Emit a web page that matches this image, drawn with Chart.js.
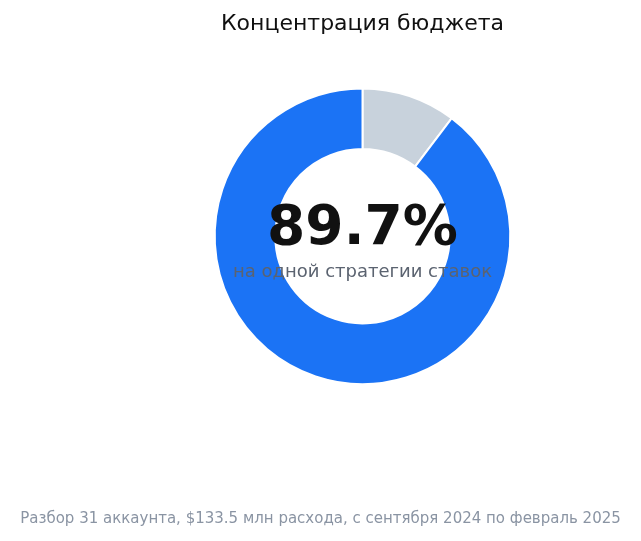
<!DOCTYPE html>
<html>
<head>
<meta charset="utf-8">
<script src="https://cdn.jsdelivr.net/npm/chart.js"></script>
<style>
  html, body { margin: 0; padding: 0; background: #fff; }
</style>
</head>
<body>
<canvas id="budgetChart" width="641" height="541"></canvas>
<script>
  const labels = ['Прочие стратегии', 'Одна стратегия ставок'];
  const shares = [10.3, 89.7];
  const sliceColors = ['#c8d2dc', '#1b73f5'];
  const centerValue = '89.7%';
  const centerCaption = 'на одной стратегии ставок';
  const footNote = 'Разбор 31 аккаунта, $133.5 млн расхода, с сентября 2024 по февраль 2025';

  // text in the hole of the doughnut + the note at the bottom
  const extraText = {
    id: 'extraText',
    afterDraw(chart) {
      const { ctx, chartArea, width } = chart;
      const cx = (chartArea.left + chartArea.right) / 2;
      const cy = (chartArea.top + chartArea.bottom) / 2;
      ctx.save();
      ctx.textAlign = 'center';
      ctx.textBaseline = 'alphabetic';
      ctx.fillStyle = '#111111';
      ctx.font = 'bold 55px "DejaVu Sans"';
      ctx.fillText(centerValue, cx, cy + 8);
      ctx.fillStyle = '#5b6370';
      ctx.font = '18px "DejaVu Sans"';
      ctx.fillText(centerCaption, cx, cy + 41);
      ctx.fillStyle = '#8a94a3';
      ctx.font = '15px "DejaVu Sans"';
      ctx.fillText(footNote, width / 2, 523);
      ctx.restore();
    }
  };

  new Chart(document.getElementById('budgetChart'), {
    type: 'doughnut',
    data: {
      labels: labels,
      datasets: [{
        data: shares,
        backgroundColor: sliceColors,
        borderColor: '#ffffff',
        borderWidth: 2
      }]
    },
    options: {
      responsive: false,
      animation: false,
      cutout: '59%',
      layout: { padding: { left: 84, right: 0, top: 0, bottom: 156 } },
      plugins: {
        legend: { display: false },
        tooltip: { enabled: false },
        title: {
          display: true,
          text: 'Концентрация бюджета',
          color: '#111111',
          font: { family: 'DejaVu Sans', size: 22, weight: 'normal' },
          padding: { top: 11, bottom: 50 }
        }
      }
    },
    plugins: [extraText]
  });
</script>
</body>
</html>
